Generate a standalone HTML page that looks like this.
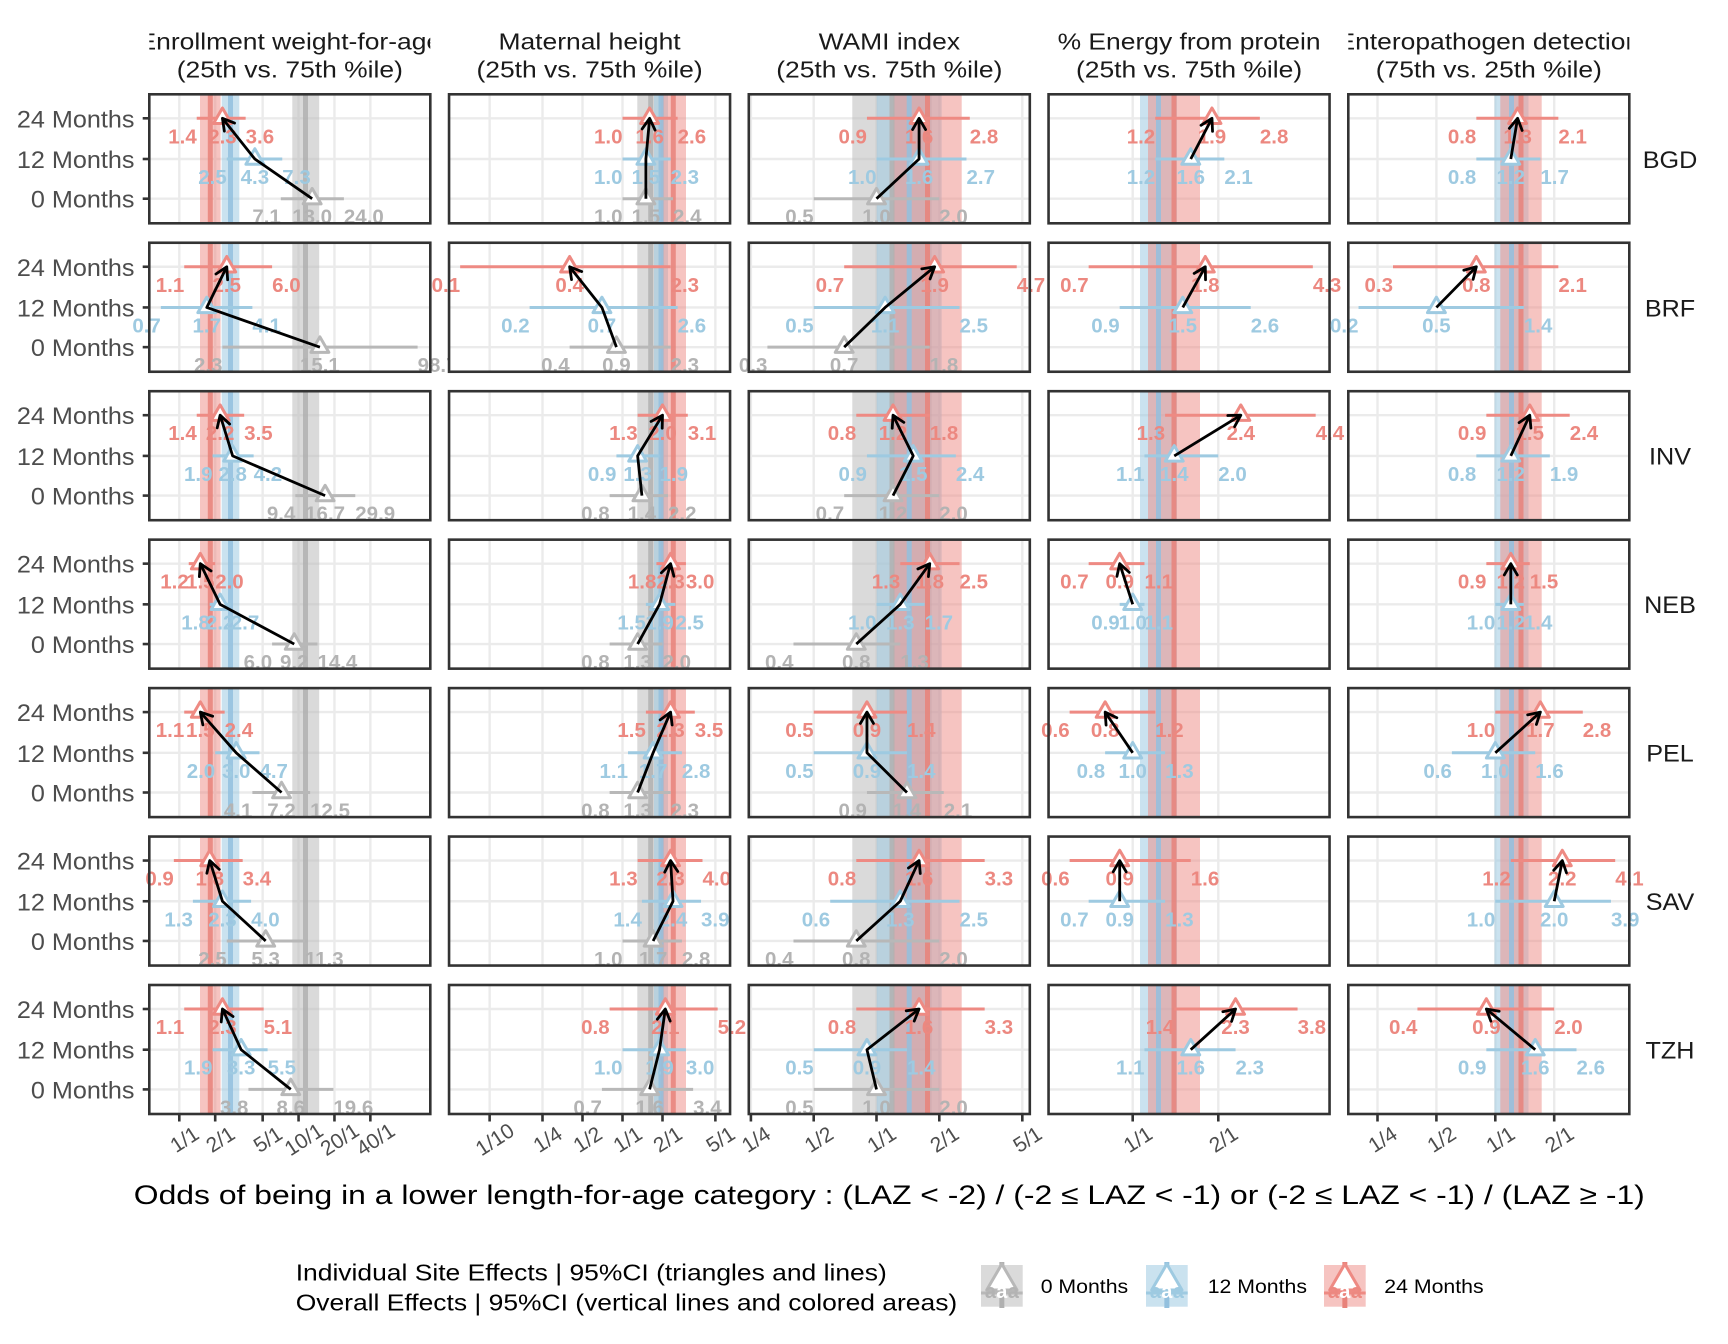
<!DOCTYPE html>
<html>
<head>
<meta charset="utf-8">
<style>
html,body{margin:0;padding:0;background:#fff;overflow:hidden}
svg{display:block}
</style>
</head>
<body>
<svg id="s" xmlns="http://www.w3.org/2000/svg" width="1728" height="1344" viewBox="0 0 1728 1344" style="font-family:'Liberation Sans',Arial,Helvetica,sans-serif">
<rect width="1728" height="1344" fill="#fff"/>
<defs>
  <clipPath id="sc0"><rect x="149.3" y="0" width="281" height="92"/></clipPath>
  <clipPath id="sc1"><rect x="449.05" y="0" width="281" height="92"/></clipPath>
  <clipPath id="sc2"><rect x="748.8" y="0" width="281" height="92"/></clipPath>
  <clipPath id="sc3"><rect x="1048.55" y="0" width="281" height="92"/></clipPath>
  <clipPath id="sc4"><rect x="1348.3" y="0" width="281" height="92"/></clipPath>
</defs>

<!-- column strip titles -->
<g fill="#1a1a1a" font-size="23" text-anchor="middle">
  <g clip-path="url(#sc0)">
    <text transform="translate(289.8,49.5) scale(1.15,1)">Enrollment weight-for-age</text>
    <text transform="translate(289.8,77.5) scale(1.15,1)">(25th vs. 75th %ile)</text>
  </g>
  <g clip-path="url(#sc1)">
    <text transform="translate(589.55,49.5) scale(1.15,1)">Maternal height</text>
    <text transform="translate(589.55,77.5) scale(1.15,1)">(25th vs. 75th %ile)</text>
  </g>
  <g clip-path="url(#sc2)">
    <text transform="translate(889.3,49.5) scale(1.15,1)">WAMI index</text>
    <text transform="translate(889.3,77.5) scale(1.15,1)">(25th vs. 75th %ile)</text>
  </g>
  <g clip-path="url(#sc3)">
    <text transform="translate(1189.05,49.5) scale(1.15,1)">% Energy from protein</text>
    <text transform="translate(1189.05,77.5) scale(1.15,1)">(25th vs. 75th %ile)</text>
  </g>
  <g clip-path="url(#sc4)">
    <text transform="translate(1488.8,49.5) scale(1.15,1)">Enteropathogen detection</text>
    <text transform="translate(1488.8,77.5) scale(1.15,1)">(75th vs. 25th %ile)</text>
  </g>
</g>

<!-- row strip labels -->
<g fill="#1a1a1a" font-size="24" text-anchor="middle">
  <text transform="translate(1670,167.8) scale(1.05,1)">BGD</text>
  <text transform="translate(1670,316.25) scale(1.05,1)">BRF</text>
  <text transform="translate(1670,464.7) scale(1.05,1)">INV</text>
  <text transform="translate(1670,613.15) scale(1.05,1)">NEB</text>
  <text transform="translate(1670,761.6) scale(1.05,1)">PEL</text>
  <text transform="translate(1670,910.05) scale(1.05,1)">SAV</text>
  <text transform="translate(1670,1058.5) scale(1.05,1)">TZH</text>
</g>

<!-- axis title -->
<text x="889.3" y="1204" font-size="27" fill="#000" text-anchor="middle" textLength="1511" lengthAdjust="spacingAndGlyphs">Odds of being in a lower length-for-age category : (LAZ &lt; -2) / (-2 ≤ LAZ &lt; -1) or (-2 ≤ LAZ &lt; -1) / (LAZ ≥ -1)</text>

<!-- legend -->
<g fill="#000" font-size="23">
  <text transform="translate(295.7,1280.5) scale(1.15,1)">Individual Site Effects | 95%CI (triangles and lines)</text>
  <text transform="translate(295.7,1310.5) scale(1.15,1)">Overall Effects | 95%CI (vertical lines and colored areas)</text>
</g>
<g>
  <!-- gray key -->
  <rect x="981" y="1265" width="41.7" height="41.7" fill="#bdbdbd" fill-opacity="0.56"/>
  <line x1="1001.85" x2="1001.85" y1="1262" y2="1308" stroke="#b0b0b0" stroke-width="5"/>
  <line x1="981" x2="1022.7" y1="1293" y2="1293" stroke="#b8b8b8" stroke-width="3"/>
  <polygon points="1001.85,1264 1017,1290 986.7,1290" fill="#fff" stroke="#b8b8b8" stroke-width="3" stroke-linejoin="round"/>
  <g font-weight="bold" font-size="20">
    <text x="996" y="1298" text-anchor="end" fill="#b3b3b3">a</text>
    <text x="1007.7" y="1298" fill="#b3b3b3">a</text>
    <text x="1001.85" y="1298" text-anchor="middle" fill="#fff">a</text>
  </g>
  <!-- blue key -->
  <rect x="1146" y="1265" width="41.7" height="41.7" fill="#9ecae1" fill-opacity="0.55"/>
  <line x1="1166.85" x2="1166.85" y1="1262" y2="1308" stroke="#93c0de" stroke-width="5"/>
  <line x1="1146" x2="1187.7" y1="1293" y2="1293" stroke="#9ecae1" stroke-width="3"/>
  <polygon points="1166.85,1264 1182,1290 1151.7,1290" fill="#fff" stroke="#9ecae1" stroke-width="3" stroke-linejoin="round"/>
  <g font-weight="bold" font-size="20">
    <text x="1161" y="1298" text-anchor="end" fill="#9ecae1">a</text>
    <text x="1172.7" y="1298" fill="#9ecae1">a</text>
    <text x="1166.85" y="1298" text-anchor="middle" fill="#fff">a</text>
  </g>
  <!-- red key -->
  <rect x="1324" y="1265" width="41.7" height="41.7" fill="#ee8a83" fill-opacity="0.5"/>
  <line x1="1344.85" x2="1344.85" y1="1262" y2="1308" stroke="#e8827a" stroke-width="5"/>
  <line x1="1324" x2="1365.7" y1="1293" y2="1293" stroke="#ee8a83" stroke-width="3"/>
  <polygon points="1344.85,1264 1360,1290 1329.7,1290" fill="#fff" stroke="#ee8a83" stroke-width="3" stroke-linejoin="round"/>
  <g font-weight="bold" font-size="20">
    <text x="1339" y="1298" text-anchor="end" fill="#ec8880">a</text>
    <text x="1350.7" y="1298" fill="#ec8880">a</text>
    <text x="1344.85" y="1298" text-anchor="middle" fill="#fff">a</text>
  </g>
  <g fill="#000" font-size="19">
    <text transform="translate(1040.7,1293) scale(1.12,1)">0 Months</text>
    <text transform="translate(1207.7,1293) scale(1.12,1)">12 Months</text>
    <text transform="translate(1384.3,1293) scale(1.12,1)">24 Months</text>
  </g>
</g>
</svg>

<script>
(function(){
var NS='http://www.w3.org/2000/svg',svg=document.getElementById('s');
function E(t,a,p){var e=document.createElementNS(NS,t);for(var k in a)e.setAttribute(k,a[k]);(p||svg).appendChild(e);return e;}
function T(s,a,p){var e=E('text',a,p);e.textContent=s;return e;}
var L=[149.3,449.05,748.8,1048.55,1348.3],W=281,T0=94.3,RP=148.45,H=129;
var SC=[[179.3,35.9],[622.5,40],[876.5,62.8],[1132.7,85.6],[1495.3,58.9]];
function X(c,v){return SC[c][0]+SC[c][1]*Math.log(v)/Math.LN2;}
var YO=[104.4,64.7,24];
var CS=[
 {s:'#b8b8b8',t:'#b3b3b3',b:'#bdbdbd',bo:0.56,v:'#b0b0b0'},
 {s:'#9ecae1',t:'#9ecae1',b:'#9ecae1',bo:0.55,v:'#93c0de'},
 {s:'#ee8a83',t:'#ec8880',b:'#ee8a83',bo:0.5,v:'#e8827a'}];
var BANDS=[
 [[0,292.3,305.5,319.2],[1,221.7,230.5,239.3],[2,200,210.3,220.6]],
 [[0,637.3,650.7,664.1],[1,654,661,668],[2,660.6,673.3,686]],
 [[0,852.3,892,931.7],[1,876.7,909.2,941.7],[2,893.3,927.5,961.7]],
 [[1,1140,1158.5,1177],[2,1148,1174,1200]],
 [[1,1494.5,1511.5,1528.5],[2,1500.3,1521,1541.7]]];
var BR=[
 [["1/1",1],["2/1",2],["5/1",5],["10/1",10],["20/1",20],["40/1",40]],
 [["1/10",0.1],["1/4",0.25],["1/2",0.5],["1/1",1],["2/1",2],["5/1",5]],
 [["1/4",0.25],["1/2",0.5],["1/1",1],["2/1",2],["5/1",5]],
 [["1/1",1],["2/1",2]],
 [["1/4",0.25],["1/2",0.5],["1/1",1],["2/1",2]]];
var D=[
 [["7.1 13.0 24.0","2.5 4.3 7.3","1.4 2.3 3.6"],
  ["1.0 1.5 2.4","1.0 1.5 2.3","1.0 1.6 2.6"],
  ["0.5 1.0 2.0","1.0 1.6 2.7","0.9 1.6 2.8"],
  [null,"1.2 1.6 2.1","1.2 1.9 2.8"],
  [null,"0.8 1.2 1.7","0.8 1.3 2.1"]],
 [["2.3 15.1 98.7:99.6","0.7 1.7 4.1","1.1 2.5 6.0"],
  ["0.4 0.9 2.3","0.2 0.7 2.6","0.1:0.06 0.4 2.3"],
  ["0.3 0.7 1.8","0.5 1.1 2.5","0.7 1.9 4.7"],
  [null,"0.9 1.5 2.6","0.7 1.8 4.3"],
  [null,"0.2 0.5 1.4","0.3 0.8 2.1"]],
 [["9.4 16.7 29.9","1.9 2.8 4.2","1.4 2.2 3.5"],
  ["0.8 1.4 2.2","0.9 1.3 1.9","1.3 2.0 3.1"],
  ["0.7 1.2 2.0","0.9 1.5 2.4","0.8 1.2 1.8"],
  [null,"1.1 1.4 2.0","1.3 2.4 4.4"],
  [null,"0.8 1.2 1.9","0.9 1.5 2.4"]],
 [["6.0 9.2 14.4","1.8 2.2 2.7","1.2 1.5 2.0"],
  ["0.8 1.3 2.0","1.5 1.9 2.5","1.8 2.3 3.0"],
  ["0.4 0.8 1.3","1.0 1.3 1.7","1.3 1.8 2.5"],
  [null,"0.9 1.0 1.1","0.7 0.9 1.1"],
  [null,"1.0 1.2 1.4","0.9 1.2 1.5"]],
 [["4.1 7.2 12.5","2.0 3.0 4.7","1.1 1.5 2.4"],
  ["0.8 1.3 2.3","1.1 1.7 2.8","1.5 2.3 3.5"],
  ["0.9 1.4 2.1","0.5 0.9 1.4","0.5 0.9 1.4"],
  [null,"0.8 1.0 1.3","0.6 0.8 1.2"],
  [null,"0.6 1.0 1.6","1.0 1.7 2.8"]],
 [["2.5 5.3 11.3","1.3 2.3 4.0","0.9 1.8 3.4"],
  ["1.0 1.7 2.8","1.4 2.4 3.9","1.3 2.3 4.0"],
  ["0.4 0.8 2.0","0.6 1.3 2.5","0.8 1.6 3.3"],
  [null,"0.7 0.9 1.3","0.6 0.9 1.6"],
  [null,"1.0 2.0 3.9","1.2 2.2 4.1"]],
 [["3.8 8.6 19.6","1.9 3.3 5.5","1.1 2.3 5.1"],
  ["0.7 1.6 3.4","1.0 1.9 3.0","0.8 2.1 5.2"],
  ["0.5 1.0 2.0","0.5 0.9 1.4","0.8 1.6 3.3"],
  [null,"1.1 1.6 2.3","1.4 2.3 3.8"],
  [null,"0.9 1.6 2.6","0.4 0.9 2.0"]]];
var YL=["0 Months","12 Months","24 Months"];

/* y-axis labels and ticks */
for(var r=0;r<7;r++){
  var y0=T0+r*RP;
  for(var i=0;i<3;i++){
    var y=y0+YO[i];
    E('line',{x1:142.7,x2:149.3,y1:y,y2:y,stroke:'#333333','stroke-width':2.6});
    T(YL[i],{transform:'translate(134.5,'+(y+9)+') scale(1.05,1)','text-anchor':'end','font-size':24,fill:'#4d4d4d'});
  }
}
/* x-axis ticks and labels */
for(var c=0;c<5;c++){
  BR[c].forEach(function(b){
    var x=X(c,b[1]);
    E('line',{x1:x,x2:x,y1:1114,y2:1121.5,stroke:'#333333','stroke-width':2.6});
    T(b[0],{transform:'translate('+(x+5.5)+',1140) rotate(-33)','text-anchor':'middle','dominant-baseline':'central','font-size':21,fill:'#4d4d4d'});
  });
}

/* panels, column-major so later panels cover overflow */
for(var c=0;c<5;c++){
 for(var r=0;r<7;r++){
  var x0=L[c],y0=T0+r*RP,g=E('g',{});
  E('rect',{x:x0,y:y0,width:W,height:H,fill:'#fff'},g);
  BR[c].forEach(function(b){var x=X(c,b[1]);if(x>x0+1&&x<x0+W-1)E('line',{x1:x,x2:x,y1:y0,y2:y0+H,stroke:'#ebebeb','stroke-width':2.4},g);});
  YO.forEach(function(o){E('line',{x1:x0,x2:x0+W,y1:y0+o,y2:y0+o,stroke:'#ebebeb','stroke-width':2.4},g);});
  BANDS[c].forEach(function(b){var k=CS[b[0]];E('rect',{x:b[1],y:y0,width:b[3]-b[1],height:H,fill:k.b,'fill-opacity':k.bo},g);});
  BANDS[c].forEach(function(b){var k=CS[b[0]];E('line',{x1:b[2],x2:b[2],y1:y0,y2:y0+H,stroke:k.v,'stroke-width':5,'stroke-opacity':0.85},g);});
  var P=D[r][c].map(function(s){
    if(!s)return null;
    return s.split(' ').map(function(t){var q=t.split(':');return {l:q[0],v:parseFloat(q.length>1?q[1]:q[0])};});
  });
  P.forEach(function(p,i){if(!p)return;var y=y0+YO[i];
    E('line',{x1:Math.max(x0,X(c,p[0].v)),x2:Math.min(x0+W,X(c,p[2].v)),y1:y,y2:y,stroke:CS[i].s,'stroke-width':3},g);});
  P.forEach(function(p,i){if(!p)return;var y=y0+YO[i]+25,col=CS[i].t;
    T(p[0].l,{x:X(c,p[0].v),y:y,'text-anchor':'end','font-size':20.5,'font-weight':'bold',fill:col},g);
    T(p[1].l,{x:X(c,p[1].v),y:y,'text-anchor':'middle','font-size':20.5,'font-weight':'bold',fill:col},g);
    T(p[2].l,{x:X(c,p[2].v),y:y,'text-anchor':'start','font-size':20.5,'font-weight':'bold',fill:col},g);
  });
  var pts=[];
  P.forEach(function(p,i){if(!p)return;var cx=X(c,p[1].v),cy=y0+YO[i];pts.push([cx,cy]);
    E('polygon',{points:cx+','+(cy-10.3)+' '+(cx+8.95)+','+(cy+5.2)+' '+(cx-8.95)+','+(cy+5.2),fill:'#fff',stroke:CS[i].s,'stroke-width':3,'stroke-linejoin':'round'},g);});
  if(pts.length>1){
    E('polyline',{points:pts.map(function(q){return q[0]+','+q[1];}).join(' '),fill:'none',stroke:'#000','stroke-width':2.8,'stroke-linejoin':'round'},g);
    var Pn=pts[pts.length-1],Q=pts[pts.length-2];
    var a=Math.atan2(Pn[1]-Q[1],Pn[0]-Q[0]),len=13,sp=Math.PI/6;
    var w1=[Pn[0]-len*Math.cos(a-sp),Pn[1]-len*Math.sin(a-sp)],w2=[Pn[0]-len*Math.cos(a+sp),Pn[1]-len*Math.sin(a+sp)];
    E('polyline',{points:w1[0]+','+w1[1]+' '+Pn[0]+','+Pn[1]+' '+w2[0]+','+w2[1],fill:'none',stroke:'#000','stroke-width':2.8,'stroke-linejoin':'round','stroke-linecap':'round'},g);
  }
  E('rect',{x:x0,y:y0,width:W,height:H,fill:'none',stroke:'#333333','stroke-width':2.6},g);
 }
}
})();
</script>
</body>
</html>
